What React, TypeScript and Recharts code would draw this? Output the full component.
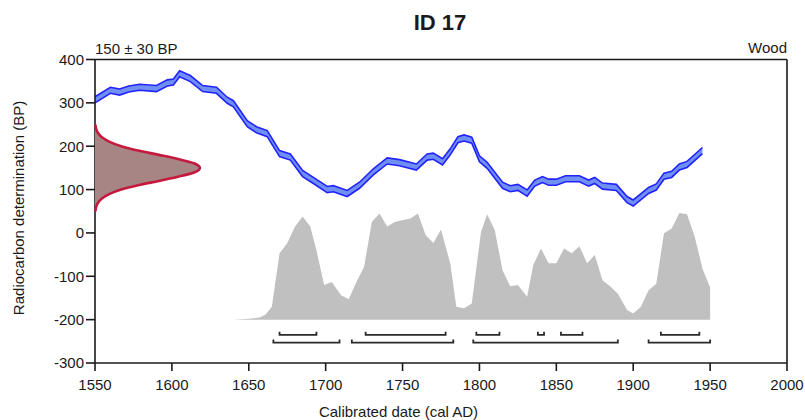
import { Area, ComposedChart, Line, XAxis, YAxis } from "recharts";

// calibration curve (IntCal-style band), centre values in BP
const calYears = [
  1550, 1560, 1566, 1572, 1579, 1590, 1597, 1601, 1605, 1612, 1620, 1629, 1636, 1640,
  1649, 1655, 1662, 1670, 1677, 1685, 1692, 1701, 1705, 1714, 1722, 1731, 1740, 1748,
  1759, 1766, 1770, 1776, 1781, 1786, 1790, 1795, 1800, 1805, 1815, 1820, 1825, 1831,
  1836, 1841, 1845, 1850, 1856, 1865, 1871, 1875, 1880, 1889, 1896, 1900, 1910, 1915,
  1920, 1925, 1930, 1935, 1945,
];
const calBP = [
  307, 329, 325, 332, 336, 333, 346, 348, 367, 356, 333, 329, 306, 298,
  252, 238, 229, 183, 175, 137, 121, 100, 102, 91, 110, 141, 166, 162,
  152, 175, 177, 164, 187, 215, 219, 214, 171, 156, 110, 102, 105, 92,
  115, 123, 117, 117, 125, 125, 115, 121, 108, 105, 77, 69, 98, 106,
  131, 135, 152, 158, 190,
];
const calSigma = 7;

// posterior (grey), top edge in axis units above the -200 baseline
const postBase = -200;
const postYears = [
  1640, 1650, 1657, 1661, 1665, 1670, 1675, 1680, 1685, 1690, 1694, 1699, 1704, 1710,
  1715, 1720, 1725, 1730, 1735, 1740, 1745, 1748, 1755, 1760, 1765, 1770, 1775, 1781,
  1785, 1790, 1795, 1801, 1805, 1810, 1815, 1820, 1825, 1831, 1835, 1840, 1845, 1850,
  1855, 1860, 1865, 1870, 1875, 1880, 1885, 1890, 1896, 1900, 1905, 1910, 1915, 1920,
  1925, 1930, 1935, 1940, 1945, 1950, 1950,
];
const postTop = [
  -200, -198, -195, -188, -170, -47, -24, 14, 38, 15, -40, -120, -113, -144,
  -153, -113, -78, 25, 45, 15, 25, 28, 33, 45, -5, -23, 8, -70,
  -170, -174, -163, 2, 43, 6, -86, -123, -120, -147, -74, -36, -70, -70,
  -36, -47, -31, -70, -51, -109, -123, -140, -178, -186, -170, -132, -117, -1,
  10, 46, 43, -9, -82, -126, -200,
];

// measured date 150 ± 30 BP, relative probability
const distBP = [50, 60, 70, 80, 90, 100, 110, 120, 130, 140, 150, 160, 170, 180, 190, 200, 210, 220, 230, 240, 250];
const distProb = [0.004, 0.011, 0.03, 0.07, 0.14, 0.25, 0.41, 0.61, 0.8, 0.95, 1, 0.95, 0.8, 0.61, 0.41, 0.25, 0.14, 0.07, 0.03, 0.011, 0.004];

// highest posterior density ranges
const range68 = [
  [1670, 1694],
  [1726, 1778],
  [1798, 1813],
  [1838, 1842],
  [1853, 1867],
  [1918, 1943],
];
const range95 = [
  [1666, 1709],
  [1717, 1783],
  [1796, 1890],
  [1910, 1950],
];
const row68 = -235;
const row95 = -253;
const capHeight = 7;

const xTicks = [1550, 1600, 1650, 1700, 1750, 1800, 1850, 1900, 1950, 2000];
const yTicks = [-300, -200, -100, 0, 100, 200, 300, 400];

const calData = calYears.map((year, i) => ({ year, bp: calBP[i] }));
const postData = postYears.map((year, i) => ({ year, bp: postTop[i] }));
const distData = distBP.map((bp, i) => ({ bp, p: distProb[i] }));
const bracket = ([a, b]: number[], row: number) => [
  { year: a, bp: row + capHeight },
  { year: a, bp: row },
  { year: b, bp: row },
  { year: b, bp: row + capHeight },
];
const brackets = [
  ...range68.map((r) => bracket(r, row68)),
  ...range95.map((r) => bracket(r, row95)),
];

const FONT = '"Liberation Sans", Arial, sans-serif';
const INK = "#1a1a1a";
const axisStyle = { stroke: INK, strokeWidth: 1.6 };

const W = 805;
const H = 420;

export default function App() {
  return (
    <div style={{ position: "absolute", left: 0, top: 0, width: W, height: H, fontFamily: FONT, color: INK }}>
      <ComposedChart width={W} height={H} margin={{ top: 0, right: 0, bottom: 0, left: 0 }}>
        <XAxis
          xAxisId="b"
          type="number"
          dataKey="year"
          domain={[1550, 2000]}
          ticks={xTicks}
          allowDataOverflow
          height={57}
          tickSize={8}
          tickMargin={8}
          axisLine={axisStyle}
          tickLine={axisStyle}
          tick={{ fontSize: 15, fill: INK, fontFamily: FONT }}
        />
        <XAxis
          xAxisId="t"
          orientation="top"
          type="number"
          dataKey="year"
          domain={[1550, 2000]}
          ticks={xTicks}
          allowDataOverflow
          height={59.5}
          tickSize={-9}
          axisLine={axisStyle}
          tickLine={axisStyle}
          tick={false}
        />
        <YAxis
          yAxisId="l"
          type="number"
          domain={[-300, 400]}
          ticks={yTicks}
          allowDataOverflow
          width={95}
          tickSize={9}
          tickMargin={2}
          axisLine={axisStyle}
          tickLine={axisStyle}
          tick={{ fontSize: 15, fill: INK, fontFamily: FONT }}
        />
        <YAxis
          yAxisId="r"
          orientation="right"
          type="number"
          domain={[-300, 400]}
          ticks={yTicks}
          allowDataOverflow
          width={18}
          tickSize={-9}
          axisLine={axisStyle}
          tickLine={axisStyle}
          tick={false}
        />
        <Area
          xAxisId="b"
          yAxisId="l"
          data={postData}
          dataKey="bp"
          baseValue={postBase}
          type="linear"
          stroke="none"
          fill="#c0c0c0"
          fillOpacity={1}
          isAnimationActive={false}
        />
        {brackets.map((pts, i) => (
          <Line
            key={i}
            xAxisId="b"
            yAxisId="l"
            data={pts}
            dataKey="bp"
            type="linear"
            stroke="#2a2a2a"
            strokeWidth={1.8}
            dot={false}
            isAnimationActive={false}
          />
        ))}
        <Area
          xAxisId="b"
          yAxisId="l"
          data={calData}
          dataKey={(d: { bp: number }) => [d.bp - calSigma, d.bp + calSigma]}
          type="linear"
          stroke="#2323ff"
          strokeWidth={1.6}
          fill="#6f8ff2"
          fillOpacity={1}
          isAnimationActive={false}
        />
      </ComposedChart>

      <div style={{ position: "absolute", left: 0, top: 0, pointerEvents: "none" }}>
        <ComposedChart
          layout="vertical"
          width={W}
          height={H}
          data={distData}
          margin={{ top: 59.5, right: 18, bottom: 57, left: 95 }}
        >
          <XAxis type="number" domain={[0, 6.6]} hide />
          <YAxis type="number" dataKey="bp" domain={[-300, 400]} reversed hide />
          <Area
            dataKey="p"
            type="monotone"
            stroke="#c41a3d"
            strokeWidth={2.6}
            fill="#a88585"
            fillOpacity={1}
            isAnimationActive={false}
          />
        </ComposedChart>
      </div>

      <div style={{ position: "absolute", left: 440, top: 12, transform: "translateX(-50%)", fontSize: 22, fontWeight: "bold", lineHeight: 1, whiteSpace: "nowrap" }}>
        ID 17
      </div>
      <div style={{ position: "absolute", left: 95, top: 40.5, fontSize: 15, lineHeight: 1, whiteSpace: "nowrap" }}>
        150 ± 30 BP
      </div>
      <div style={{ position: "absolute", right: 18, top: 40, fontSize: 15, lineHeight: 1, whiteSpace: "nowrap" }}>
        Wood
      </div>
      <div style={{ position: "absolute", left: 398.5, top: 404, transform: "translateX(-50%)", fontSize: 15, lineHeight: 1, whiteSpace: "nowrap" }}>
        Calibrated date (cal AD)
      </div>
      <div style={{ position: "absolute", left: 18, top: 208, transform: "translate(-50%, -50%) rotate(-90deg)", fontSize: 15, lineHeight: 1, whiteSpace: "nowrap" }}>
        Radiocarbon determination (BP)
      </div>
    </div>
  );
}
